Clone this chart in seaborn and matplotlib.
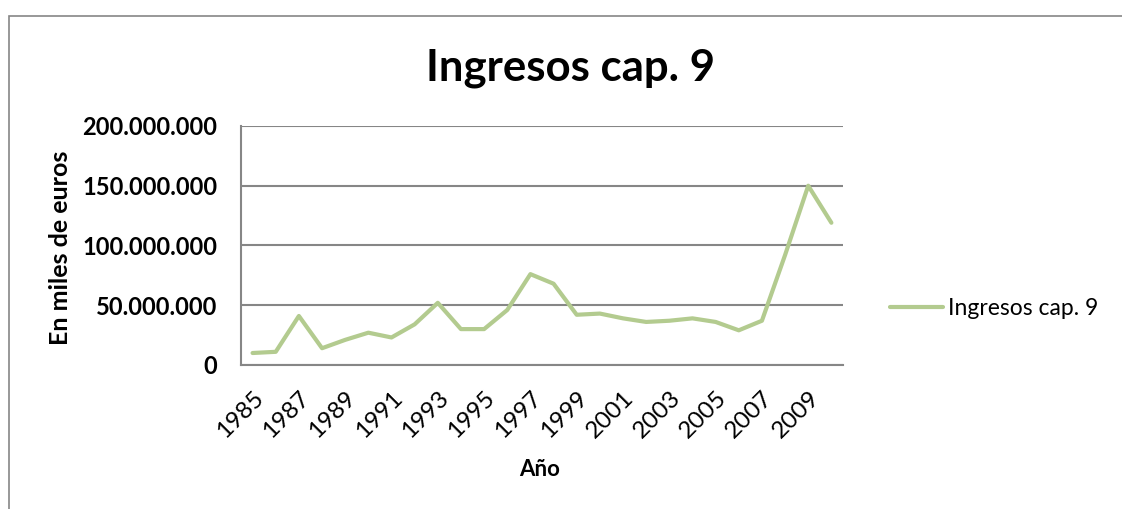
import numpy as np
import pandas as pd
import matplotlib
matplotlib.use("Agg")
import matplotlib.pyplot as plt
from matplotlib.ticker import FuncFormatter
from matplotlib.patches import Rectangle
import seaborn as sns

# values (miles de euros)
years = list(range(1985, 2011))
ingresos = [10e6, 11e6, 41e6, 14e6, 21e6, 27e6, 23e6, 34e6, 52e6, 30e6,
            30e6, 46e6, 76e6, 68e6, 42e6, 43e6, 39e6, 36e6, 37e6, 39e6,
            36e6, 29e6, 37e6, 92e6, 150e6, 119e6]
tick_years = list(range(1985, 2010, 2))
y_ticks = [0, 50e6, 100e6, 150e6, 200e6]

df = pd.DataFrame({"Año": years, "Ingresos cap. 9": ingresos})

sns.set_style("white")
plt.rcParams["font.family"] = ["Lato", "DejaVu Sans"]
plt.rcParams["text.color"] = "black"
plt.rcParams["axes.labelcolor"] = "black"

grey = "#868686"
green = "#B3CB8F"

fig = plt.figure(figsize=(11.22, 5.09), dpi=100)
ax = fig.add_axes([0.2148, 0.283, 0.5365, 0.4695])

sns.lineplot(data=df, x="Año", y="Ingresos cap. 9", ax=ax, color=green,
             linewidth=3.0, label="Ingresos cap. 9")

ax.set_xlim(1984.5, 2010.5)
ax.set_ylim(0, 200e6)
ax.set_yticks(y_ticks)
ax.yaxis.set_major_formatter(FuncFormatter(lambda v, p: f"{v:,.0f}".replace(",", ".")))
ax.set_xticks(tick_years)
ax.set_xticklabels([str(y) for y in tick_years], rotation=45, ha="right",
                   va="top", rotation_mode="anchor")
ax.grid(axis="y", color=grey, linewidth=1.5)
ax.set_axisbelow(True)

for side in ["top", "right"]:
    ax.spines[side].set_visible(False)
for side in ["left", "bottom"]:
    ax.spines[side].set_color(grey)
    ax.spines[side].set_linewidth(1.5)

ax.tick_params(axis="y", length=7, width=1.5, color=grey, labelcolor="black",
               labelsize=17, pad=10)
ax.tick_params(axis="x", length=0, labelcolor="black", labelsize=17.5, pad=16)
for lab in ax.get_yticklabels():
    lab.set_fontweight("bold")

ax.set_xlabel("")
ax.set_ylabel("")
fig.text(540 / 1122, 1 - 470 / 509, "Año", ha="center", va="center",
         fontsize=16, fontweight="bold")
fig.text(60 / 1122, 1 - 248 / 509, "En miles de euros", ha="center", va="center",
         rotation=90, fontsize=18, fontweight="bold")
fig.text(571 / 1122, 1 - 68 / 509, "Ingresos cap. 9", ha="center", va="center",
         fontsize=31.5, fontweight="bold")

leg = ax.legend(loc="center left", bbox_to_anchor=(1.078, 0.238), frameon=False,
                fontsize=16.5, handlelength=2.3, handletextpad=0.22,
                borderpad=0, borderaxespad=0)

# outer chart frame, cropped at right and bottom
fig.patches.append(Rectangle((9 / 1122, -0.1), 1.2, 1 - 16 / 509 + 0.1,
                             transform=fig.transFigure, fill=False,
                             edgecolor=grey, linewidth=1.2))

fig.savefig("out.png", dpi=100)
